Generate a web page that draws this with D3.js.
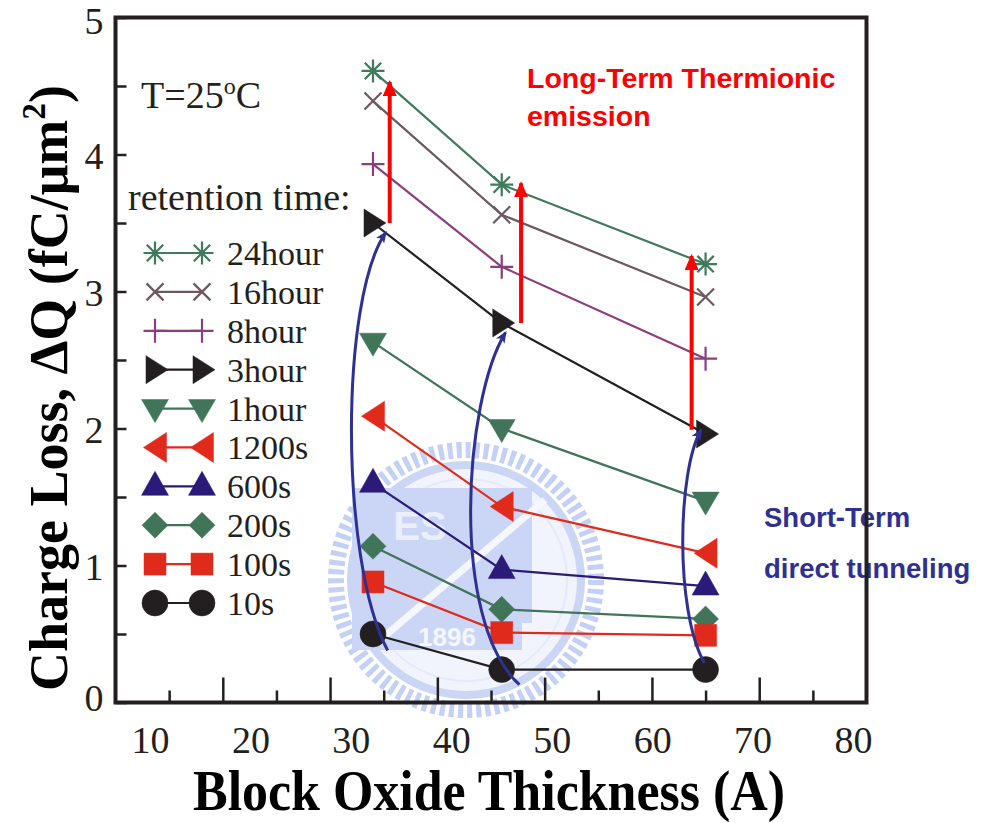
<!DOCTYPE html>
<html>
<head>
<meta charset="utf-8">
<title>Charge Loss vs Block Oxide Thickness</title>
<style>
    html, body { margin: 0; padding: 0; background: #fff; }
    svg { display: block; }
</style>
<script src="https://d3js.org/d3.v7.min.js"></script>
</head>
<body>
<script>

    // ---- data ----
    var thickness = [34, 46, 65];
    var seriesNames = ["24hour", "16hour", "8hour", "3hour", "1hour", "1200s", "600s", "200s", "100s", "10s"];
    var loss24h   = [4.61, 3.78, 3.20];
    var loss16h   = [4.39, 3.56, 2.96];
    var loss8h    = [3.93, 3.18, 2.51];
    var loss3h    = [3.50, 2.77, 1.96];
    var loss1h    = [2.63, 2.00, 1.47];
    var loss1200s = [2.09, 1.43, 1.09];
    var loss600s  = [1.60, 0.97, 0.85];
    var loss200s  = [1.14, 0.68, 0.61];
    var loss100s  = [0.88, 0.51, 0.49];
    var loss10s   = [0.50, 0.24, 0.24];

    var xTickLabels = [10, 20, 30, 40, 50, 60, 70, 80];
    var yTickLabels = [0, 1, 2, 3, 4, 5];

    // annotations (data units)
    var thermX    = [35.56, 47.8, 63.7];
    var thermFrom = [3.50, 2.77, 1.99];
    var thermTo   = [4.53, 3.79, 3.26];
    var tunnelCurves = [
        [[35.37, 0.38], [30.9, 1.04], [30.9, 2.94], [35.18, 3.43]],
        [[47.65, 0.13], [41.1, 0.60], [42.5, 2.21], [46.35, 2.70]],
        [[64.88, 0.29], [62.1, 0.68], [62.4, 1.70], [64.59, 1.99]]
    ];

    var allLoss = [loss24h, loss16h, loss8h, loss3h, loss1h, loss1200s, loss600s, loss200s, loss100s, loss10s];

    var shapes = ["asterisk", "times", "plus", "triR", "triD", "triL", "triU", "diamond", "square", "circle"];
    var colors = ["#3f7a5c", "#6d5862", "#8c3d7e", "#231f20", "#40755a", "#e02b1c", "#2b1a7a", "#40755a", "#e02b1c", "#231f20"];

    var SERIF = "'Liberation Serif', 'Times New Roman', Times, serif";
    var SANS = "'Liberation Sans', Arial, Helvetica, sans-serif";

    var series = seriesNames.map(function(n, i) {
        return {
            name: n, shape: shapes[i], color: colors[i],
            values: thickness.map(function(t, j) { return { x: t, y: allLoss[i][j] }; })
        };
    });

    var W = 989, H = 823;
    var svg = d3.select("body").append("svg").attr("width", W).attr("height", H);

    var x = d3.scaleLinear().domain([10, 80]).range([115.5, 866.5]);
    var y = d3.scaleLinear().domain([0, 5]).range([702.5, 17.5]);
    // tick labels in the figure sit on a slightly different spacing than the ticks
    var xLab = d3.scaleLinear().domain([10, 80]).range([150, 853]);

    // ---- watermark (faint emblem) ----
    var wm = svg.append("g").attr("opacity", 0.6);
    var wcx = 466, wcy = 580;
    wm.append("circle").attr("cx", wcx).attr("cy", wcy).attr("r", 130)
        .attr("fill", "none").attr("stroke", "#9db1ee").attr("stroke-width", 16)
        .attr("stroke-dasharray", "5 4");
    wm.append("circle").attr("cx", wcx).attr("cy", wcy).attr("r", 115)
        .attr("fill", "#e8edfc").attr("stroke", "#a9bbf0").attr("stroke-width", 8);
    wm.append("circle").attr("cx", wcx).attr("cy", wcy).attr("r", 101)
        .attr("fill", "none").attr("stroke", "#d3ddf8").attr("stroke-width", 2);
    wm.append("rect").attr("x", 352).attr("y", 488).attr("width", 180).attr("height", 135)
        .attr("fill", "#a9bcf2");
    wm.append("rect").attr("x", 352).attr("y", 620).attr("width", 170).attr("height", 30)
        .attr("fill", "#a9bcf2");
    wm.append("text").attr("x", 447).attr("y", 646).attr("text-anchor", "middle")
        .style("font-family", SANS).style("font-weight", "bold")
        .attr("font-size", 26).attr("fill", "#eef2fd").text("1896");
    wm.append("text").attr("x", 420).attr("y", 540).attr("text-anchor", "middle")
        .style("font-family", SANS).style("font-weight", "bold")
        .attr("font-size", 40).attr("fill", "#dfe6fb").text("ES");
    wm.append("line").attr("x1", 380).attr("y1", 640).attr("x2", 545).attr("y2", 500)
        .attr("stroke", "#eef2fd").attr("stroke-width", 7);

    // ---- axes ticks ----
    var yAxis = d3.axisLeft(y)
        .tickValues(d3.range(0, 5.01, 0.5))
        .tickSize(-11)
        .tickPadding(12)
        .tickFormat(function(d) { return Number.isInteger(d) ? d : ""; });
    var gy = svg.append("g").attr("transform", "translate(115.5,0)").call(yAxis);
    gy.select(".domain").remove();
    gy.selectAll("line").attr("stroke", "#231f20").attr("stroke-width", 2.5);
    gy.selectAll("text").style("font-family", SERIF).style("font-size", "38px")
        .attr("fill", "#231f20")
        .attr("dy", function(d) { return d === 0 ? "0.2em" : (d === 5 ? "0.42em" : "0.36em"); });

    var xAxis = d3.axisBottom(x)
        .tickValues(d3.range(15, 76, 5))
        .tickSize(0)
        .tickFormat("");
    var gx = svg.append("g").attr("transform", "translate(0,702.5)").call(xAxis);
    gx.select(".domain").remove();
    gx.selectAll("line").attr("stroke", "#231f20").attr("stroke-width", 2.5)
        .attr("y2", function(d) { return d % 10 === 0 ? -25 : -12; });

    var xLabAxis = d3.axisBottom(xLab).tickValues(xTickLabels).tickSize(0).tickPadding(24);
    var gxl = svg.append("g").attr("transform", "translate(0,702.5)").call(xLabAxis);
    gxl.select(".domain").remove();
    gxl.selectAll("text").style("font-family", SERIF).style("font-size", "38px").attr("fill", "#231f20");

    // ---- marker shapes ----
    function markerPath(shape) {
        switch (shape) {
            case "asterisk": return "M-11.5,0H11.5M0,-11.5V11.5M-8.2,-8.2L8.2,8.2M-8.2,8.2L8.2,-8.2";
            case "times":    return "M-8.5,-8.5L8.5,8.5M-8.5,8.5L8.5,-8.5";
            case "plus":     return "M-11.5,0H11.5M0,-12V12";
            case "triR":     return "M-9,-14L13,0L-9,14Z";
            case "triD":     return "M-13.5,-9L13.5,-9L0,14Z";
            case "triL":     return "M11.5,-15L-11.5,0L11.5,15Z";
            case "triU":     return "M-13.5,9L13.5,9L0,-15Z";
            case "diamond":  return "M0,-13L13,0L0,13L-13,0Z";
            case "square":   return "M-11,-11H11V11H-11Z";
            case "circle":   return "M13,0A13,13 0 1,1 -13,0A13,13 0 1,1 13,0Z";
        }
    }
    function isOpen(shape) { return shape === "asterisk" || shape === "times" || shape === "plus"; }

    function drawMarker(sel, s) {
        sel.append("path")
            .attr("d", markerPath(s.shape))
            .attr("fill", isOpen(s.shape) ? "none" : s.color)
            .attr("stroke", s.color)
            .attr("stroke-width", isOpen(s.shape) ? 2.2 : 0.5);
    }

    // ---- series lines & markers ----
    var line = d3.line().x(function(d) { return x(d.x); }).y(function(d) { return y(d.y); });

    svg.append("g").selectAll("path").data(series).enter().append("path")
        .attr("d", function(d) { return line(d.values); })
        .attr("fill", "none")
        .attr("stroke", function(d) { return d.color; })
        .attr("stroke-width", 2.2);

    series.forEach(function(s) {
        svg.append("g").selectAll("g").data(s.values).enter().append("g")
            .attr("transform", function(d) { return "translate(" + x(d.x) + "," + y(d.y) + ")"; })
            .each(function() { drawMarker(d3.select(this), s); });
    });

    // ---- arrow markers ----
    var defs = svg.append("defs");
    defs.append("marker").attr("id", "redHead")
        .attr("markerUnits", "userSpaceOnUse")
        .attr("viewBox", "0 -7 16 14").attr("refX", 14).attr("refY", 0)
        .attr("markerWidth", 16).attr("markerHeight", 14).attr("orient", "auto")
        .append("path").attr("d", "M0,-7L16,0L0,7Z").attr("fill", "#ff0000");
    defs.append("marker").attr("id", "blueHead")
        .attr("markerUnits", "userSpaceOnUse")
        .attr("viewBox", "0 -5 12 10").attr("refX", 10).attr("refY", 0)
        .attr("markerWidth", 12).attr("markerHeight", 10).attr("orient", "auto")
        .append("path").attr("d", "M0,-5L12,0L0,5L3,0Z").attr("fill", "#2e3192");

    // long-term thermionic arrows (red)
    svg.append("g").selectAll("line").data(thermX).enter().append("line")
        .attr("x1", function(d) { return x(d); })
        .attr("x2", function(d) { return x(d); })
        .attr("y1", function(d, i) { return y(thermFrom[i]); })
        .attr("y2", function(d, i) { return y(thermTo[i]); })
        .attr("stroke", "#ff0000").attr("stroke-width", 4)
        .attr("marker-end", "url(#redHead)");

    // short-term tunneling curves (blue)
    svg.append("g").selectAll("path").data(tunnelCurves).enter().append("path")
        .attr("d", function(c) {
            var p = d3.path();
            p.moveTo(x(c[0][0]), y(c[0][1]));
            p.bezierCurveTo(x(c[1][0]), y(c[1][1]), x(c[2][0]), y(c[2][1]), x(c[3][0]), y(c[3][1]));
            return p.toString();
        })
        .attr("fill", "none").attr("stroke", "#2e3192").attr("stroke-width", 3)
        .attr("marker-end", "url(#blueHead)");

    // ---- legend ----
    var legend = svg.append("g");
    var rowY = d3.scaleLinear().domain([0, 9]).range([253, 603]);
    series.forEach(function(s, i) {
        var g = legend.append("g").attr("transform", "translate(0," + rowY(i) + ")");
        g.append("line").attr("x1", 155).attr("x2", 202).attr("y1", 0).attr("y2", 0)
            .attr("stroke", s.color).attr("stroke-width", 2.2);
        drawMarker(g.append("g").attr("transform", "translate(155,0)"), s);
        drawMarker(g.append("g").attr("transform", "translate(202,0)"), s);
        g.append("text").attr("x", 227).attr("y", 12)
            .style("font-family", SERIF).style("font-size", "34px")
            .attr("fill", "#231f20").text(s.name);
    });

    // ---- text annotations ----
    var t25 = svg.append("text").attr("x", 141).attr("y", 108)
        .style("font-family", SERIF).style("font-size", "38px").attr("fill", "#231f20");
    t25.append("tspan").text("T=25");
    t25.append("tspan").style("font-size", "24px").attr("dy", -14).text("o");
    t25.append("tspan").attr("dy", 14).text("C");

    svg.append("text").attr("x", 128).attr("y", 210)
        .style("font-family", SERIF).style("font-size", "38px")
        .attr("fill", "#231f20").text("retention time:");

    svg.append("text").attr("x", 527).attr("y", 88)
        .style("font-family", SANS).style("font-weight", "bold").style("font-size", "28.5px")
        .attr("fill", "#ff0000").text("Long-Term Thermionic");
    svg.append("text").attr("x", 527).attr("y", 126)
        .style("font-family", SANS).style("font-weight", "bold").style("font-size", "28.5px")
        .attr("fill", "#ff0000").text("emission");

    svg.append("text").attr("x", 764).attr("y", 527)
        .style("font-family", SANS).style("font-weight", "bold").style("font-size", "27.5px")
        .attr("fill", "#2e3192").text("Short-Term");
    svg.append("text").attr("x", 764).attr("y", 578)
        .style("font-family", SANS).style("font-weight", "bold").style("font-size", "27.5px")
        .attr("fill", "#2e3192").text("direct tunneling");

    // ---- axis titles ----
    svg.append("text")
        .attr("x", 489).attr("y", 810).attr("text-anchor", "middle")
        .style("font-family", SERIF).style("font-weight", "bold").style("font-size", "57px")
        .attr("fill", "#000")
        .attr("textLength", 592).attr("lengthAdjust", "spacingAndGlyphs")
        .text("Block Oxide Thickness (A)");

    var yt = svg.append("text")
        .attr("transform", "translate(67,388) rotate(-90)").attr("text-anchor", "middle")
        .style("font-family", SERIF).style("font-weight", "bold").style("font-size", "55px")
        .attr("fill", "#000")
        .attr("textLength", 606).attr("lengthAdjust", "spacingAndGlyphs");
    yt.append("tspan").text("Charge Loss, \u0394Q (fC/\u03bcm");
    yt.append("tspan").style("font-size", "34px").attr("dy", -22).text("2");
    yt.append("tspan").attr("dy", 22).text(")");

    // ---- frame ----
    svg.append("rect").attr("x", 115.5).attr("y", 17.5).attr("width", 751).attr("height", 685)
        .attr("fill", "none").attr("stroke", "#231f20").attr("stroke-width", 4);

</script>
</body>
</html>
